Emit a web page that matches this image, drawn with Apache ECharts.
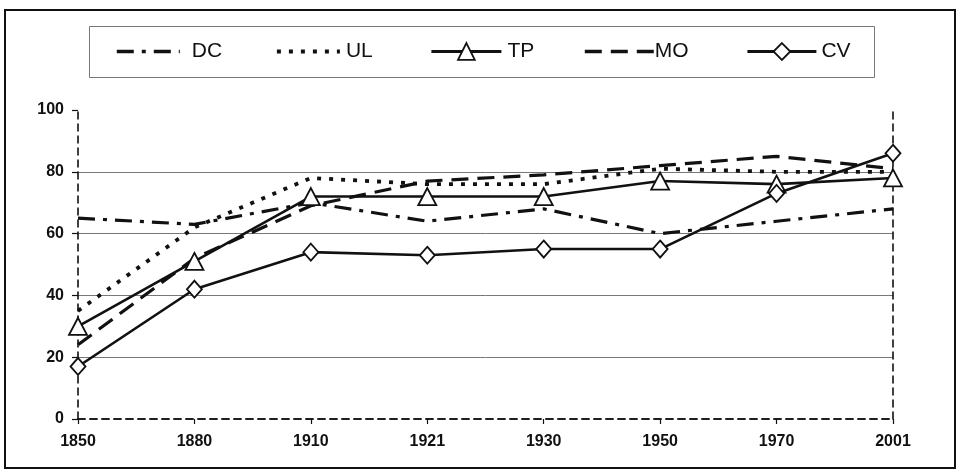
<!DOCTYPE html>
<html>
<head>
<meta charset="utf-8">
<script src="https://cdn.jsdelivr.net/npm/echarts@6/dist/echarts.min.js"></script>
<style>
html,body{margin:0;padding:0;background:#fff;}
#chart{width:961px;height:470px;}
</style>
</head>
<body>
<div id="chart"></div>
<script>
var categories = ['1850','1880','1910','1921','1930','1950','1970','2001'];
var dcValues = [65, 63, 70, 64, 68, 60, 64, 68];
var ulValues = [35, 62, 78, 76, 76, 81, 80, 80];
var tpValues = [30, 51, 72, 72, 72, 77, 76, 78];
var moValues = [24, 52, 69, 77, 79, 82, 85, 81];
var cvValues = [17, 42, 54, 53, 55, 55, 73, 86];
var yTicks = [0, 20, 40, 60, 80, 100];

var FONT = 'Liberation Sans, Arial, sans-serif';
var INK = '#111';

var chart = echarts.init(document.getElementById('chart'), null, {renderer: 'canvas'});

function legendAt(name, left, width, textPad, hideSymbol, lineW) {
  var l = {
    data: [name],
    left: left,
    top: 41,
    padding: 0,
    itemWidth: width,
    itemHeight: 21,
    itemGap: 0,
    selectedMode: false,
    lineStyle: {width: lineW},
    textStyle: {fontFamily: FONT, fontSize: 21, color: INK, padding: [1, 0, 0, textPad]}
  };
  if (hideSymbol) {
    l.itemStyle = {color: 'rgba(0,0,0,0)', borderColor: 'rgba(0,0,0,0)', borderWidth: 0, opacity: 0};
  } else {
    l.itemStyle = {color: '#fff', borderColor: INK, borderWidth: 1.8};
  }
  return l;
}

var dashedAxis = {show: true, lineStyle: {color: '#111', width: 1.6, type: [7, 5]}};

var option = {
  animation: false,
  backgroundColor: '#fff',
  graphic: [
    {type: 'rect', shape: {x: 5, y: 10, width: 950, height: 458}, style: {fill: 'none', stroke: INK, lineWidth: 2}, z: 0},
    {type: 'rect', shape: {x: 89.5, y: 26.5, width: 785, height: 51}, style: {fill: 'none', stroke: '#777', lineWidth: 1}, z: 0}
  ],
  legend: [
    legendAt('DC', 115, 63, 7, true, 3.6),
    legendAt('UL', 275, 63, 1, true, 3.8),
    legendAt('TP', 430, 70, 1, false, 2.8),
    legendAt('MO', 583, 69, -4, true, 3.6),
    legendAt('CV', 746, 69, 0, false, 2.8)
  ],
  grid: {left: 78, right: 68, top: 110, bottom: 51, containLabel: false},
  xAxis: [{
    type: 'category',
    data: categories,
    boundaryGap: false,
    axisLine: dashedAxis,
    axisTick: {show: true, length: 5, lineStyle: {color: INK, width: 1.2}},
    axisLabel: {fontFamily: FONT, fontSize: 16, fontWeight: 'bold', color: INK, margin: 15},
    splitLine: {show: false}
  }, {
    type: 'category',
    data: categories,
    boundaryGap: false,
    position: 'top',
    axisLine: dashedAxis,
    axisTick: {show: false},
    axisLabel: {show: false},
    splitLine: {show: false}
  }],
  yAxis: [{
    type: 'value',
    min: 0,
    max: 100,
    interval: 20,
    axisLine: dashedAxis,
    axisTick: {show: true, length: 6, lineStyle: {color: INK, width: 1.2}},
    axisLabel: {
      fontFamily: FONT, fontSize: 16, fontWeight: 'bold', color: INK, margin: 14,
      formatter: function (v) { return yTicks.indexOf(v) >= 0 ? String(v) : ''; }
    },
    splitLine: {show: true, showMinLine: false, showMaxLine: false, lineStyle: {color: '#777', width: 1, type: 'solid'}}
  }, {
    type: 'value',
    min: 0,
    max: 100,
    interval: 20,
    position: 'right',
    axisLine: dashedAxis,
    axisTick: {show: false},
    axisLabel: {show: false},
    splitLine: {show: false}
  }],
  series: [
    {
      name: 'DC', type: 'line', data: dcValues, symbol: 'none',
      lineStyle: {color: INK, width: 3.2, type: [17, 8, 4, 8]},
      itemStyle: {color: INK}, z: 3
    },
    {
      name: 'UL', type: 'line', data: ulValues, symbol: 'none',
      lineStyle: {color: INK, width: 3.8, type: [4, 8]},
      itemStyle: {color: INK}, z: 3
    },
    {
      name: 'TP', type: 'line', data: tpValues, symbol: 'triangle', symbolSize: [18, 17],
      lineStyle: {color: INK, width: 2.6, type: 'solid'},
      itemStyle: {color: '#fff', borderColor: INK, borderWidth: 1.8}, z: 4
    },
    {
      name: 'MO', type: 'line', data: moValues, symbol: 'none',
      lineStyle: {color: INK, width: 3.2, type: [17, 9]},
      itemStyle: {color: INK}, z: 3
    },
    {
      name: 'CV', type: 'line', data: cvValues, symbol: 'diamond', symbolSize: [15, 17],
      lineStyle: {color: INK, width: 2.6, type: 'solid'},
      itemStyle: {color: '#fff', borderColor: INK, borderWidth: 1.8}, z: 5
    }
  ]
};
chart.setOption(option);
</script>
</body>
</html>
